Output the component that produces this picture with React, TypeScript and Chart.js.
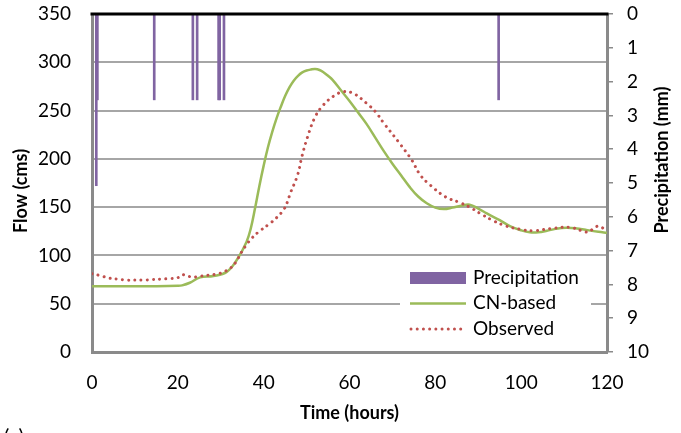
import { useEffect, useRef } from 'react';
import { Chart, registerables } from 'chart.js';
Chart.register(...registerables);

const FONT = 'Lato, "Open Sans", sans-serif';

// Precipitation (mm), right reversed axis
const precipHours = [1, 1.25, 14.5, 23.5, 24.5, 29.5, 29.75, 30.75, 94.75];
const precipMm = [5.08, 2.54, 2.54, 2.54, 2.54, 2.54, 2.54, 2.54, 2.54];

// CN-based simulated flow (cms)
const cnHours = [0, 5, 10, 15, 20, 21, 22.8, 25.2, 28.3, 31.4, 33.7, 36, 37, 38, 39, 40, 41, 42, 43, 44, 45, 46, 47, 48, 49, 50, 51, 52, 53, 54, 55, 56, 58, 60, 62, 64, 66, 68, 70, 72, 74, 76, 78, 80, 82, 84, 86, 88, 90, 92, 95, 97.5, 100, 102, 104, 106, 108, 110.5, 113, 115, 118, 120];
const cnFlow = [68, 68, 68, 68, 68.5, 69, 71.7, 77.3, 78.7, 83, 95, 114, 128, 149, 172, 193, 212, 228, 242, 254, 265, 274, 281, 286, 289.5, 291.5, 292.5, 293, 292, 289.5, 286, 282, 271, 260, 248, 236, 222, 208, 195, 183, 171, 161, 154, 149.5, 148, 149.5, 151.5, 152.5, 148.5, 143.5, 136.5, 130, 126, 124, 124, 125.5, 127.5, 128.7, 128, 126.5, 124.5, 123.5];

// Observed flow (cms)
const obsHours = [0, 2, 4, 6, 8, 10, 12, 14, 16, 18, 20, 21, 22, 23.5, 25, 27, 29.4, 31, 32.2, 33.5, 34.9, 36, 37.2, 39, 41.5, 43, 44.6, 45.5, 46.2, 47.9, 48.9, 50.2, 52, 53.9, 56.3, 58.6, 60.9, 64, 66, 68, 71.8, 74.5, 76.5, 78.8, 82.3, 85.8, 88.1, 90.4, 93.5, 96.3, 99.8, 102.9, 107.2, 111.4, 114.1, 115.7, 116.7, 118, 119.6, 120];
const obsFlow = [81, 79, 76.5, 75.5, 74.5, 74.5, 74.5, 75, 75.5, 76, 77, 80, 79, 77.5, 78.5, 79.5, 81, 83.5, 86.6, 93, 103.8, 111, 117.7, 125, 133.2, 139, 147, 155, 164.3, 183.2, 202.2, 222.3, 243.6, 255.7, 265, 269.5, 267.8, 257.4, 249, 237, 215.3, 198.8, 183.2, 172.9, 160.8, 154.6, 149.8, 143.6, 136, 130.7, 127, 125.6, 128, 129.1, 125.6, 124.2, 127.3, 130.4, 127, 127];

const legendLabels = ['Precipitation', 'CN-based', 'Observed'];

const deco = {
  id: 'deco',
  afterDraw(chart: any) {
    const { ctx, chartArea } = chart;
    const { left, right, top } = chartArea;
    ctx.save();
    // top border
    ctx.strokeStyle = '#000';
    ctx.lineWidth = 3;
    ctx.beginPath();
    ctx.moveTo(left - 1.5, top);
    ctx.lineTo(right + 1.5, top);
    ctx.stroke();

    // legend
    ctx.fillStyle = '#fff';
    ctx.fillRect(400, 260, 191, 88);
    ctx.fillStyle = '#8064A2';
    ctx.fillRect(410, 272, 56, 12);
    ctx.strokeStyle = '#9BBB59';
    ctx.lineWidth = 2.5;
    ctx.beginPath();
    ctx.moveTo(410, 303.5);
    ctx.lineTo(466, 303.5);
    ctx.stroke();
    ctx.strokeStyle = '#C0504D';
    ctx.lineWidth = 3;
    ctx.lineCap = 'round';
    ctx.setLineDash([0.01, 6.2]);
    ctx.beginPath();
    ctx.moveTo(411, 329);
    ctx.lineTo(466, 329);
    ctx.stroke();
    ctx.setLineDash([]);
    ctx.fillStyle = '#000';
    ctx.font = `19px ${FONT}`;
    ctx.textAlign = 'left';
    ctx.textBaseline = 'middle';
    ctx.fillText(legendLabels[0], 473, 278);
    ctx.fillText(legendLabels[1], 473, 303);
    ctx.fillText(legendLabels[2], 473, 329);

    // axis titles
    ctx.font = `bold 18px ${FONT}`;
    ctx.textAlign = 'center';
    ctx.fillText('Time (hours)', (left + right) / 2, 413);
    ctx.save();
    ctx.translate(21, 191);
    ctx.rotate(-Math.PI / 2);
    ctx.fillText('Flow (cms)', 0, 0);
    ctx.restore();
    ctx.save();
    ctx.translate(662, 160);
    ctx.rotate(-Math.PI / 2);
    ctx.fillText('Precipitation (mm)', 0, 0);
    ctx.restore();
    ctx.restore();
  },
};

const noPad = (s: any) => {
  s.paddingTop = 0;
  s.paddingBottom = 0;
  s.paddingLeft = 0;
  s.paddingRight = 0;
};

export default function App() {
  const ref = useRef<HTMLCanvasElement>(null);
  useEffect(() => {
    const cnData = cnHours.map((h, i) => ({ x: h, y: cnFlow[i] }));
    const obsData = obsHours.map((h, i) => ({ x: h, y: obsFlow[i] }));
    const pData = precipHours.map((h, i) => ({ x: h, y: precipMm[i] }));
    const tickFont = { family: FONT, size: 19 };
    const chart = new Chart(ref.current as HTMLCanvasElement, {
      type: 'line',
      data: {
        datasets: [
          {
            type: 'bar',
            label: 'Precipitation',
            data: pData as any,
            yAxisID: 'y1',
            xAxisID: 'x',
            backgroundColor: '#8064A2',
            barThickness: 2,
            order: 3,
          } as any,
          {
            type: 'line',
            label: 'CN-based',
            data: cnData as any,
            yAxisID: 'y',
            borderColor: '#9BBB59',
            borderWidth: 2.5,
            pointRadius: 0,
            tension: 0.4,
            order: 2,
          },
          {
            type: 'line',
            label: 'Observed',
            data: obsData as any,
            yAxisID: 'y',
            borderColor: '#C0504D',
            borderWidth: 3,
            borderDash: [0.01, 6.2],
            borderCapStyle: 'round',
            pointRadius: 0,
            tension: 0.4,
            order: 1,
          },
        ],
      },
      options: {
        animation: false,
        responsive: false,
        maintainAspectRatio: false,
        devicePixelRatio: 1,
        layout: { padding: { top: 14, left: 0, right: 0, bottom: 0 } },
        plugins: { legend: { display: false }, tooltip: { enabled: false } },
        scales: {
          x: {
            type: 'linear',
            min: 0,
            max: 120,
            offset: false,
            ticks: { stepSize: 20, color: '#000', font: tickFont, padding: 19, maxRotation: 0 },
            grid: { display: false, drawTicks: false },
            border: { display: true, color: '#8a8a8a', width: 3 },
            afterFit: (s: any) => { s.height = 81; noPad(s); },
          },
          y: {
            type: 'linear',
            position: 'left',
            min: 0,
            max: 350,
            ticks: { stepSize: 50, color: '#000', font: tickFont, padding: 21 },
            grid: { color: '#a6a6a6', lineWidth: 2, drawTicks: false },
            border: { display: true, color: '#8a8a8a', width: 3 },
            afterFit: (s: any) => { s.width = 92; noPad(s); },
          },
          y1: {
            type: 'linear',
            position: 'right',
            min: 0,
            max: 10,
            reverse: true,
            ticks: { stepSize: 1, color: '#000', font: tickFont, padding: 14 },
            grid: { drawOnChartArea: false, drawTicks: true, tickLength: 6, color: '#8a8a8a', lineWidth: 1.5 },
            border: { display: true, color: '#8a8a8a', width: 3 },
            afterFit: (s: any) => { s.width = 74; noPad(s); },
          },
        },
      } as any,
      plugins: [deco],
    });
    return () => chart.destroy();
  }, []);
  return (
    <div style={{ position: 'absolute', left: 0, top: 0, width: 681, height: 433, overflow: 'hidden', background: '#fff' }}>
      <canvas ref={ref} width={681} height={433} style={{ width: 681, height: 433, display: 'block' }} />
      <div style={{ position: 'absolute', left: 4, top: 425, fontFamily: FONT, fontSize: 20, lineHeight: '20px', color: '#000' }}>(a)</div>
    </div>
  );
}
